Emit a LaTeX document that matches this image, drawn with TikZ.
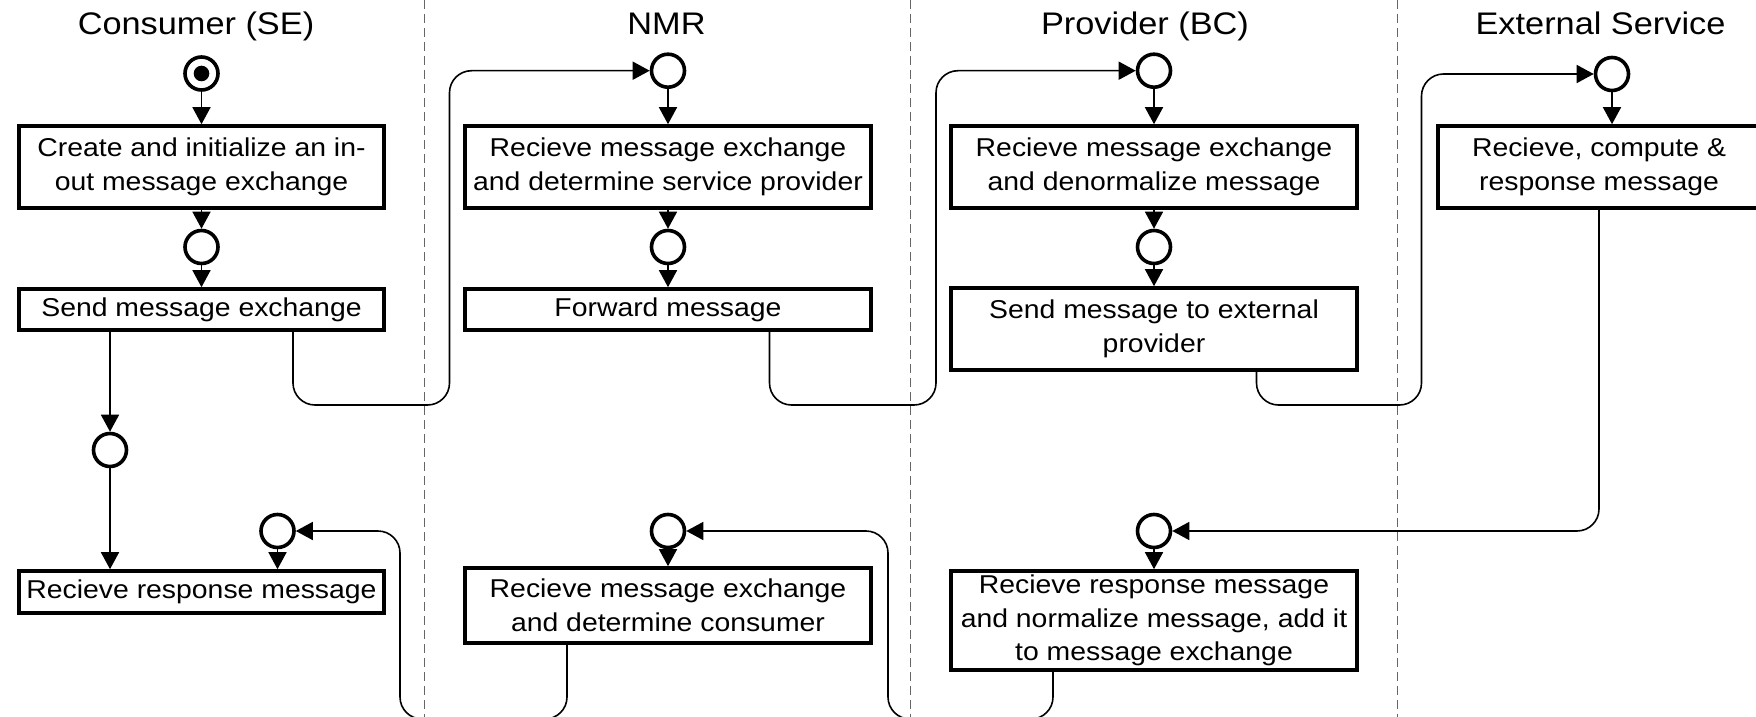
\documentclass[tikz,border=0pt]{standalone}
\usepackage{fontspec}
\setmainfont{Liberation Sans}[FakeStretch=1.1]
\usetikzlibrary{arrows.meta}
\newcommand{\bxfont}{\fontsize{12.9pt}{16.75pt}\selectfont}
\newcommand{\ttlfont}{\fontsize{15.6pt}{18pt}\selectfont}
\begin{document}
\begin{tikzpicture}[x=0.5pt,y=-0.5pt,
  box/.style={draw,line width=1.8pt,inner sep=0pt,align=center,font=\bxfont},
  circ/.style={draw,circle,line width=1.8pt,minimum size=16.5pt,inner sep=0pt},
  conn/.style={line width=0.8pt,-{Triangle[width=9pt,length=8.5pt]}},
  route/.style={conn,rounded corners=11pt},
  lane/.style={draw=black!60,line width=0.6pt,dash pattern=on 4.5pt off 2.5pt},
  title/.style={font=\ttlfont,anchor=base,inner sep=0pt}]
\clip (0,0) rectangle (1756,717);
\fill[white] (0,0) rectangle (1756,717);

% lane dividers
\draw[lane] (424.5,0) -- (424.5,717);
\draw[lane] (910.6,0) -- (910.6,717);
\draw[lane] (1397.8,0) -- (1397.8,717);

% titles
\node[title] (t1) at (196,35) {Consumer (SE)};
\node[title] (t2) at (666.5,35) {NMR};
\node[title] (t3) at (1145,35) {Provider (BC)};
\node[title] (t4) at (1600.5,35) {External Service};

% lane 1
\node[circ] (l1s) at (201.5,73.5) {};
\fill (l1s.center) circle (3.9pt);
\node[box,minimum width=182.5pt,minimum height=41pt] (l1b1) at (201.5,167) {Create and initialize an in-\\out message exchange};
\node[circ] (l1c2) at (201.5,247) {};
\node[box,minimum width=182.5pt,minimum height=20.5pt] (l1b2) at (201.5,309.5) {Send message exchange};
\node[circ] (l1c3) at (110,450) {};
\node[circ] (l1c4) at (277.5,531) {};
\node[box,minimum width=182.5pt,minimum height=21pt] (l1b3) at (201.5,592) {Recieve response message};

% lane 2
\node[circ] (l2c1) at (668,70.7) {};
\node[box,minimum width=203pt,minimum height=41pt] (l2b1) at (668,167) {Recieve message exchange\\and determine service provider};
\node[circ] (l2c2) at (668,247) {};
\node[box,minimum width=203pt,minimum height=20.5pt] (l2b2) at (668,309.5) {Forward message};
\node[circ] (l2c3) at (668,531) {};
\node[box,minimum width=203pt,minimum height=37.5pt] (l2b3) at (668,605.5) {Recieve message exchange\\and determine consumer};

% lane 3
\node[circ] (l3c1) at (1154,70.7) {};
\node[box,minimum width=203pt,minimum height=41pt] (l3b1) at (1154,167) {Recieve message exchange\\and denormalize message};
\node[circ] (l3c2) at (1154,247) {};
\node[box,minimum width=203pt,minimum height=41pt] (l3b2) at (1154,329) {Send message to external\\provider};
\node[circ] (l3c3) at (1154,531) {};
\node[box,minimum width=203pt,minimum height=49.5pt] (l3b3) at (1154,620.5) {Recieve response message\\and normalize message, add it\\to message exchange};

% lane 4
\node[circ] (l4c1) at (1612,74) {};
\node[box,minimum width=161pt,minimum height=41pt] (l4b1) at (1599,167) {Recieve, compute \&\\response message};

% straight connectors
\draw[conn] (l1s.south) -- (l1b1.north);
\draw[conn] (l1b1.south) -- (l1c2.north);
\draw[conn] (l1c2.south) -- (l1b2.north);
\draw[conn] (l1b2.south -| l1c3) -- (l1c3.north);
\draw[conn] (l1c3.south) -- (l1c3.south |- l1b3.north);
\draw[conn] (l1c4.south) -- (l1c4.south |- l1b3.north);

\draw[conn] (l2c1.south) -- (l2b1.north);
\draw[conn] (l2b1.south) -- (l2c2.north);
\draw[conn] (l2c2.south) -- (l2b2.north);
\draw[conn] (l2c3.south) -- (l2b3.north);

\draw[conn] (l3c1.south) -- (l3b1.north);
\draw[conn] (l3b1.south) -- (l3c2.north);
\draw[conn] (l3c2.south) -- (l3b2.north);
\draw[conn] (l3c3.south) -- (l3b3.north);

\draw[conn] (l4c1.south) -- (l4c1.south |- l4b1.north);

% routed connectors
\draw[route] ([xshift=45.75pt]l1b2.south) |- (449.5,405) |- (l2c1.west);
\draw[route] ([xshift=50.75pt]l2b2.south) |- (936,405) |- (l3c1.west);
\draw[route] ([xshift=51.25pt]l3b2.south) |- (1421.5,405) |- (l4c1.west);
\draw[route] (l4b1.south) |- (l3c3.east);
\draw[route] ([xshift=-50.5pt]l3b3.south) |- (888,719) |- (l2c3.east);
\draw[route] ([xshift=-50.5pt]l2b3.south) |- (400,719) |- (l1c4.east);
\end{tikzpicture}
\end{document}
